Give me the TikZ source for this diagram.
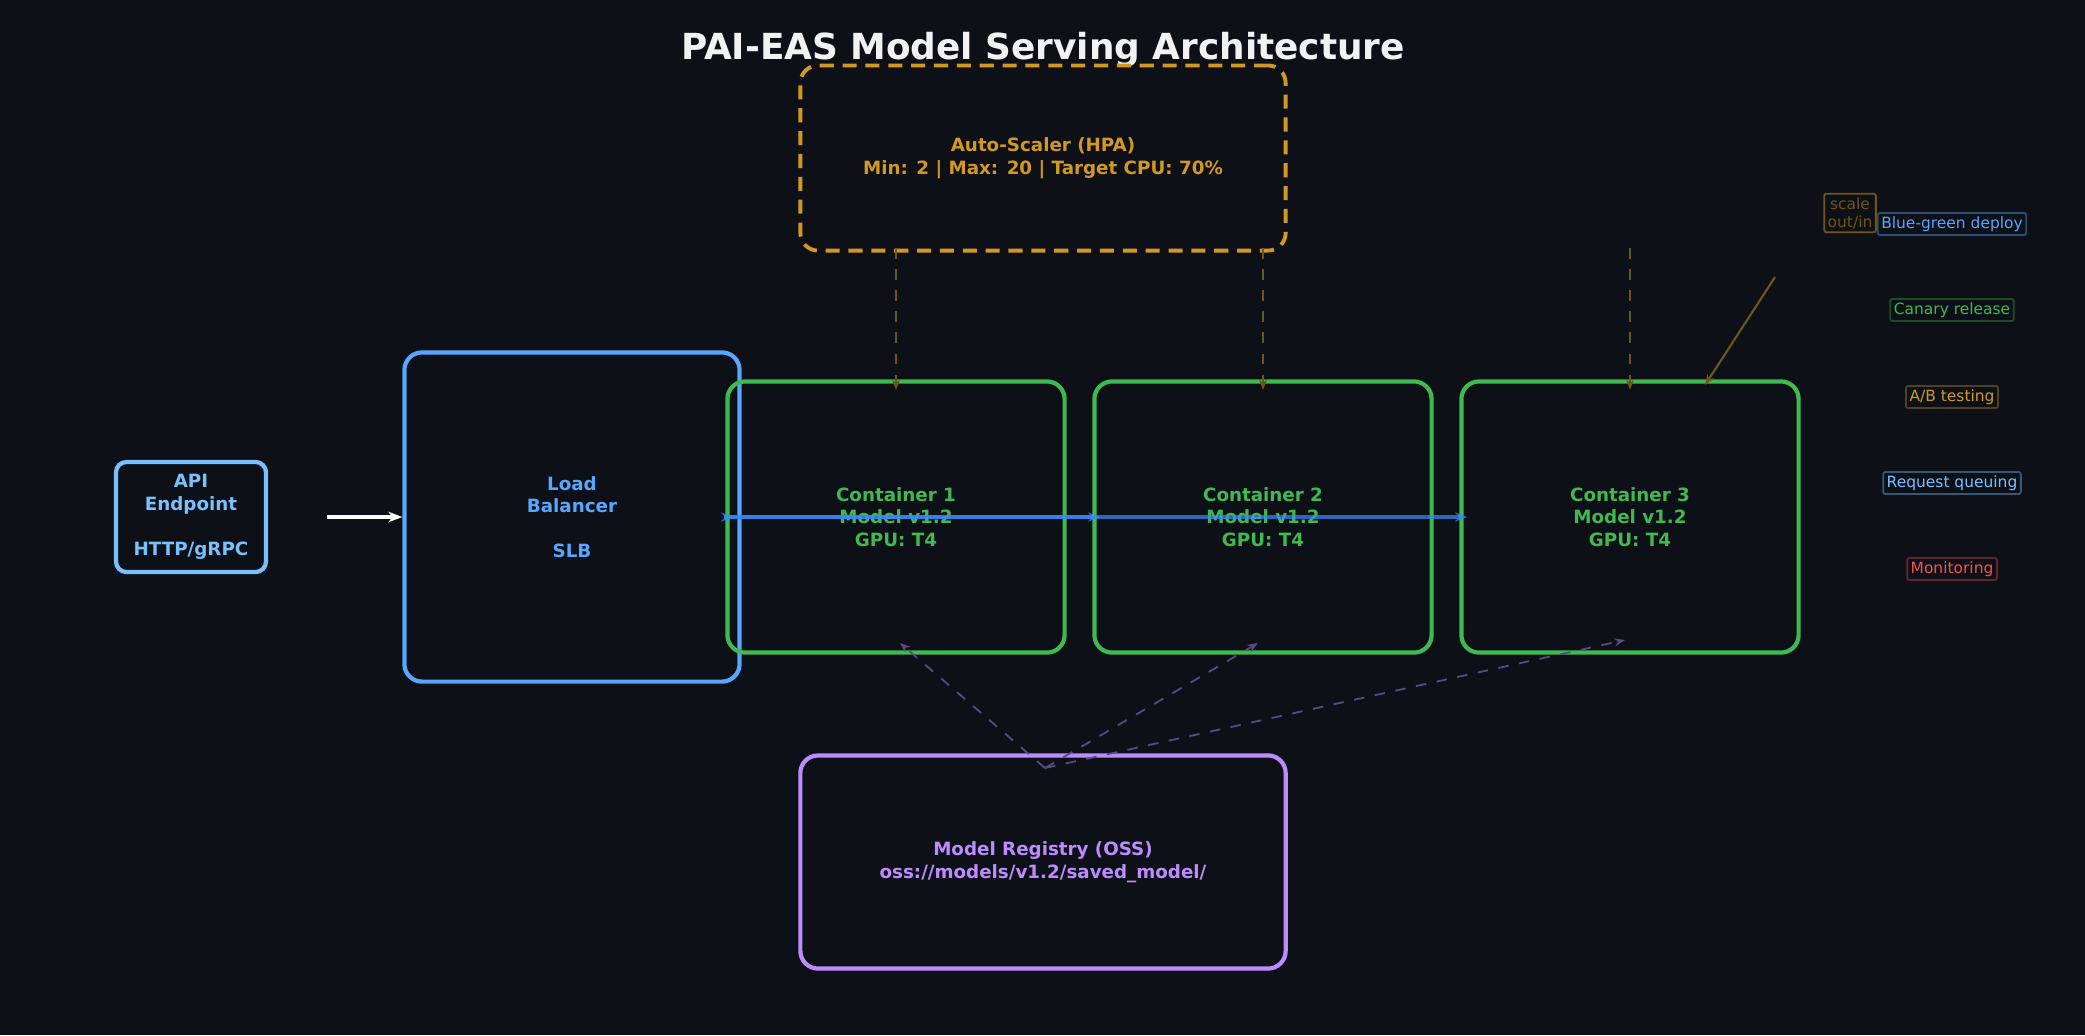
\documentclass[tikz,border=0pt]{standalone}
\usepackage{fontspec}
\setmainfont{DejaVu Sans}
\usetikzlibrary{arrows.meta}
\definecolor{bg}{HTML}{0D1117}
\definecolor{apic}{HTML}{79C0FF}
\definecolor{lbc}{HTML}{58A6FF}
\definecolor{gc}{HTML}{3FB950}
\definecolor{oc}{HTML}{D29922}
\definecolor{odim}{HTML}{6E5518}
\definecolor{pc}{HTML}{BC8CFF}
\definecolor{pdim}{HTML}{5A4A80}
\definecolor{rc}{HTML}{F85149}
\definecolor{ac}{HTML}{388BFD}
\begin{document}
\begin{tikzpicture}[x=0.01cm,y=-0.01cm,
  box/.style={draw,rounded corners=5pt,line width=1.2pt,align=center,font=\fontsize{5.2}{6.4}\selectfont\bfseries,inner sep=0pt},
  lab/.style={draw,rounded corners=0.6pt,line width=0.5pt,inner sep=1pt,font=\fontsize{4.4}{5.2}\selectfont,fill=bg}]
\fill[bg] (0,0) rectangle (2085,1035);
\useasboundingbox (0,0) rectangle (2085,1035);
\node[text=white!90!gray,font=\fontsize{10.2}{12}\selectfont\bfseries] (title) at (1043,50) {PAI-EAS Model Serving Architecture};
\node[box,draw=oc,dash pattern=on 4pt off 2.5pt,line width=1.1pt,text=oc,minimum width=4.85cm,minimum height=1.85cm] (as) at (1043,158) {Auto-Scaler (HPA)\\Min: 2 | Max: 20 | Target CPU: 70\%};
\node[box,draw=apic,text=apic,minimum width=1.5cm,minimum height=1.1cm,rounded corners=3pt] (api) at (191,517) {API\\Endpoint\\[6.4pt]HTTP/gRPC};
\node[box,draw=lbc,text=lbc,minimum width=3.35cm,minimum height=3.29cm] (lb) at (572,517) {Load\\Balancer\\[6.4pt]SLB};
\node[box,draw=gc,text=gc,minimum width=3.37cm,minimum height=2.71cm] (c1) at (896,517) {Container 1\\Model v1.2\\GPU: T4};
\node[box,draw=gc,text=gc,minimum width=3.37cm,minimum height=2.71cm] (c2) at (1263,517) {Container 2\\Model v1.2\\GPU: T4};
\node[box,draw=gc,text=gc,minimum width=3.37cm,minimum height=2.71cm] (c3) at (1630,517) {Container 3\\Model v1.2\\GPU: T4};
\node[box,draw=pc,text=pc,minimum width=4.85cm,minimum height=2.13cm] (reg) at (1043,862) {Model Registry (OSS)\\oss://models/v1.2/saved\_model/};
\coordinate (apiout) at (327,517);
\draw[white,line width=1.1pt,-{Stealth[length=4pt]}] (apiout) -- (lb.west);
\coordinate (lbo) at (724,517);
\foreach \c in {c1,c2,c3}
  \draw[ac,opacity=0.7,line width=0.9pt,-{Stealth[length=3.5pt]}] (lbo) -- ([xshift=0.08cm]\c.west);
\coordinate (a1) at (896,248); \coordinate (a2) at (1263,248); \coordinate (a3) at (1630,248);
\coordinate (t1) at (896,390); \coordinate (t2) at (1263,390); \coordinate (t3) at (1630,390);
\foreach \i in {1,2,3}
  \draw[odim,dashed,line width=0.5pt,-{Stealth[length=3pt]}] (a\i) -- (t\i);
\node[lab,draw=odim,text=odim,align=center,font=\fontsize{4.4}{5.2}\selectfont] (scl) at (1850,213) {scale\\out/in};
\coordinate (sf) at (1775,277); \coordinate (st) at (1705,385);
\draw[odim,line width=0.6pt,-{Stealth[length=3pt,open]}] (sf) -- (st);
\coordinate (rs) at (1045,768);
\coordinate (r1) at (900,643); \coordinate (r2) at (1258,643); \coordinate (r3) at (1625,640);
\foreach \i in {1,2,3}
  \draw[pdim,dashed,line width=0.5pt,-{Stealth[length=3pt,open]}] (rs) -- (r\i);
\node[lab,draw=lbc!40!bg,text=lbc] (l1) at (1952,224) {Blue-green deploy};
\node[lab,draw=gc!35!bg,text=gc] (l2) at (1952,310) {Canary release};
\node[lab,draw=oc!35!bg,text=oc] (l3) at (1952,397) {A/B testing};
\node[lab,draw=apic!40!bg,text=apic] (l4) at (1952,483) {Request queuing};
\node[lab,draw=rc!35!bg,text=rc] (l5) at (1952,569) {Monitoring};
\end{tikzpicture}
\end{document}
